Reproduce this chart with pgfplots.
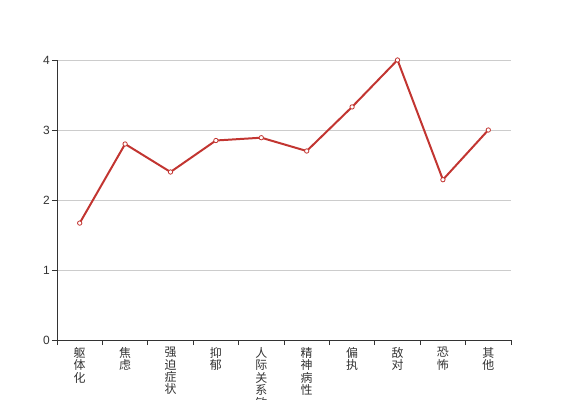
\documentclass[border=0pt]{standalone}
\usepackage{fontspec}
\setmainfont{Liberation Sans}
\newfontfamily\cjk{Noto Sans CJK SC}
\usepackage{pgfplots}
\pgfplotsset{compat=1.18}
\definecolor{ecred}{HTML}{C23531}
\definecolor{txt}{HTML}{333333}
\definecolor{gridc}{HTML}{CCCCCC}
\begin{document}
\begin{tikzpicture}
\path[use as bounding box] (-57bp,-60bp) rectangle (510bp,340bp);
\begin{axis}[
  scale only axis,
  width=454bp, height=280bp,
  xmin=-0.5, xmax=9.5, ymin=0, ymax=4,
  axis x line*=bottom, axis y line*=left,
  axis line style={txt, line width=0.8pt},
  xtick={0,...,9},
  xticklabels={{躯\\体\\化},{焦\\虑},{强\\迫\\症\\状},{抑\\郁},{人\\际\\关\\系\\敏\\感},{精\\神\\病\\性},{偏\\执},{敌\\对},{恐\\怖},{其\\他}},
  minor xtick={-0.5,0.5,...,9.5},
  major x tick style={draw=none},
  minor tick length=5bp,
  major tick length=5bp,
  tick align=outside,
  tick style={txt, line width=0.8pt},
  xticklabel style={font=\cjk\fontsize{12}{12.5}\selectfont, text=txt, align=center, anchor=north, yshift=0bp, inner sep=2bp},
  ytick={0,1,2,3,4},
  yticklabel style={font=\fontsize{12}{14}\selectfont, text=txt, inner sep=2bp},
  /pgf/number format/assume math mode=true,
  ymajorgrids,
  major grid style={gridc, line width=0.8pt},
  clip=false,
]
\addplot[ecred, line width=2pt, mark=*, mark size=2.2pt, mark options={fill=white, draw=ecred, line width=0.8pt}]
coordinates {(0,1.67) (1,2.8) (2,2.4) (3,2.85) (4,2.89) (5,2.7) (6,3.33) (7,4.0) (8,2.29) (9,3.0)};
\end{axis}
\end{tikzpicture}
\end{document}
